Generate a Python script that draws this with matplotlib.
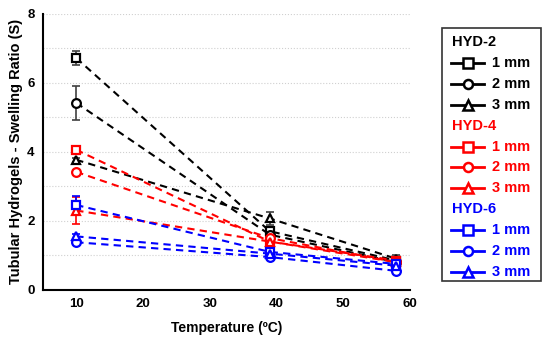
import matplotlib

matplotlib.use("Agg")
import matplotlib.pyplot as plt
from matplotlib.lines import Line2D
from matplotlib.patches import Rectangle

plt.rcParams["font.family"] = ["Liberation Sans", "DejaVu Sans"]
plt.rcParams["font.weight"] = "bold"

# data
temperature = [10, 39, 58]

hyd2_1mm = [6.72, 1.70, 0.85]
hyd2_2mm = [5.42, 1.60, 0.80]
hyd2_3mm = [3.77, 2.07, 0.90]
hyd2_1mm_err = [0.20, 0.08, 0.05]
hyd2_2mm_err = [0.50, 0.08, 0.05]
hyd2_3mm_err = [0.05, 0.20, 0.12]

hyd4_1mm = [4.06, 1.40, 0.85]
hyd4_2mm = [3.42, 1.50, 0.80]
hyd4_3mm = [2.30, 1.40, 0.80]
hyd4_1mm_err = [0.08, 0.08, 0.08]
hyd4_2mm_err = [0.05, 0.08, 0.05]
hyd4_3mm_err = [0.38, 0.10, 0.08]

hyd6_1mm = [2.46, 1.10, 0.75]
hyd6_2mm = [1.38, 0.95, 0.55]
hyd6_3mm = [1.55, 1.05, 0.70]
hyd6_1mm_err = [0.25, 0.06, 0.05]
hyd6_2mm_err = [0.05, 0.05, 0.05]
hyd6_3mm_err = [0.08, 0.05, 0.05]

groups = [
    ("HYD-2", "#000000", "#404040",
     [hyd2_1mm, hyd2_2mm, hyd2_3mm], [hyd2_1mm_err, hyd2_2mm_err, hyd2_3mm_err]),
    ("HYD-4", "#ff0000", "#ff0000",
     [hyd4_1mm, hyd4_2mm, hyd4_3mm], [hyd4_1mm_err, hyd4_2mm_err, hyd4_3mm_err]),
    ("HYD-6", "#0000ff", "#0000ff",
     [hyd6_1mm, hyd6_2mm, hyd6_3mm], [hyd6_1mm_err, hyd6_2mm_err, hyd6_3mm_err]),
]
thickness_labels = ["1 mm", "2 mm", "3 mm"]
markers = ["s", "o", "^"]

figure = plt.figure(figsize=(5.5, 3.39), dpi=100)
axis = figure.add_axes([0.078, 0.145, 0.667, 0.814])

for name, color, err_color, series, errors in groups:
    for values, err, marker in zip(series, errors, markers):
        axis.errorbar(
            temperature, values, yerr=err, fmt="none", ecolor=err_color,
            elinewidth=1.2, capsize=3, capthick=1.2, zorder=2,
        )
        axis.plot(
            temperature, values, color=color, linestyle=(0, (3.5, 2.5)), linewidth=1.5,
            marker=marker, markersize=6.3, markerfacecolor="white",
            markeredgecolor=color, markeredgewidth=1.6, zorder=3,
        )

axis.set_xlim(5, 60)
axis.set_ylim(0, 8)
axis.set_xticks([10, 20, 30, 40, 50, 60])
axis.set_yticks([0, 2, 4, 6, 8])
axis.set_yticks([1, 3, 5, 7], minor=True)
axis.tick_params(axis="both", which="both", length=0, labelsize=9.5, pad=6)
axis.grid(True, which="both", axis="y", color="#d0d0d0", linestyle=":", linewidth=0.8)
axis.set_axisbelow(True)
for side in ["top", "right"]:
    axis.spines[side].set_visible(False)
for side in ["left", "bottom"]:
    axis.spines[side].set_linewidth(1.5)
axis.set_xlabel("Temperature (\u00baC)", fontsize=10, fontweight="bold", labelpad=8)
axis.set_ylabel("Tubular Hydrogels - Swelling Ratio (S)", fontsize=10.5, fontweight="bold", labelpad=3)

# legend box drawn by hand so the group headers sit flush left
width, height = 550.0, 339.0
box = Rectangle(
    (442 / width, 1 - 281 / height), 99 / width, 253 / height,
    transform=figure.transFigure, facecolor="white", edgecolor="#333333", linewidth=1.2,
)
figure.patches.append(box)
row_y = 42.0
row_step = 20.9
for name, color, _err_color, _series, _errors in groups:
    figure.text(452 / width, 1 - row_y / height, name, color=color, fontsize=10.5,
                fontweight="bold", va="center", ha="left")
    row_y += row_step
    for label, marker in zip(thickness_labels, markers):
        y_fig = 1 - row_y / height
        handle = Line2D(
            [451 / width, 484 / width], [y_fig, y_fig], transform=figure.transFigure,
            color=color, linewidth=2.0,
        )
        figure.lines.append(handle)
        point = Line2D(
            [468 / width], [y_fig], transform=figure.transFigure, color=color,
            marker=marker, markersize=6.5, markerfacecolor="white",
            markeredgecolor=color, markeredgewidth=1.8, linestyle="none",
        )
        figure.lines.append(point)
        figure.text(492 / width, y_fig, label, color=color, fontsize=10.5,
                    fontweight="bold", va="center", ha="left")
        row_y += row_step

figure.savefig("out.png", dpi=100)
plt.close(figure)
